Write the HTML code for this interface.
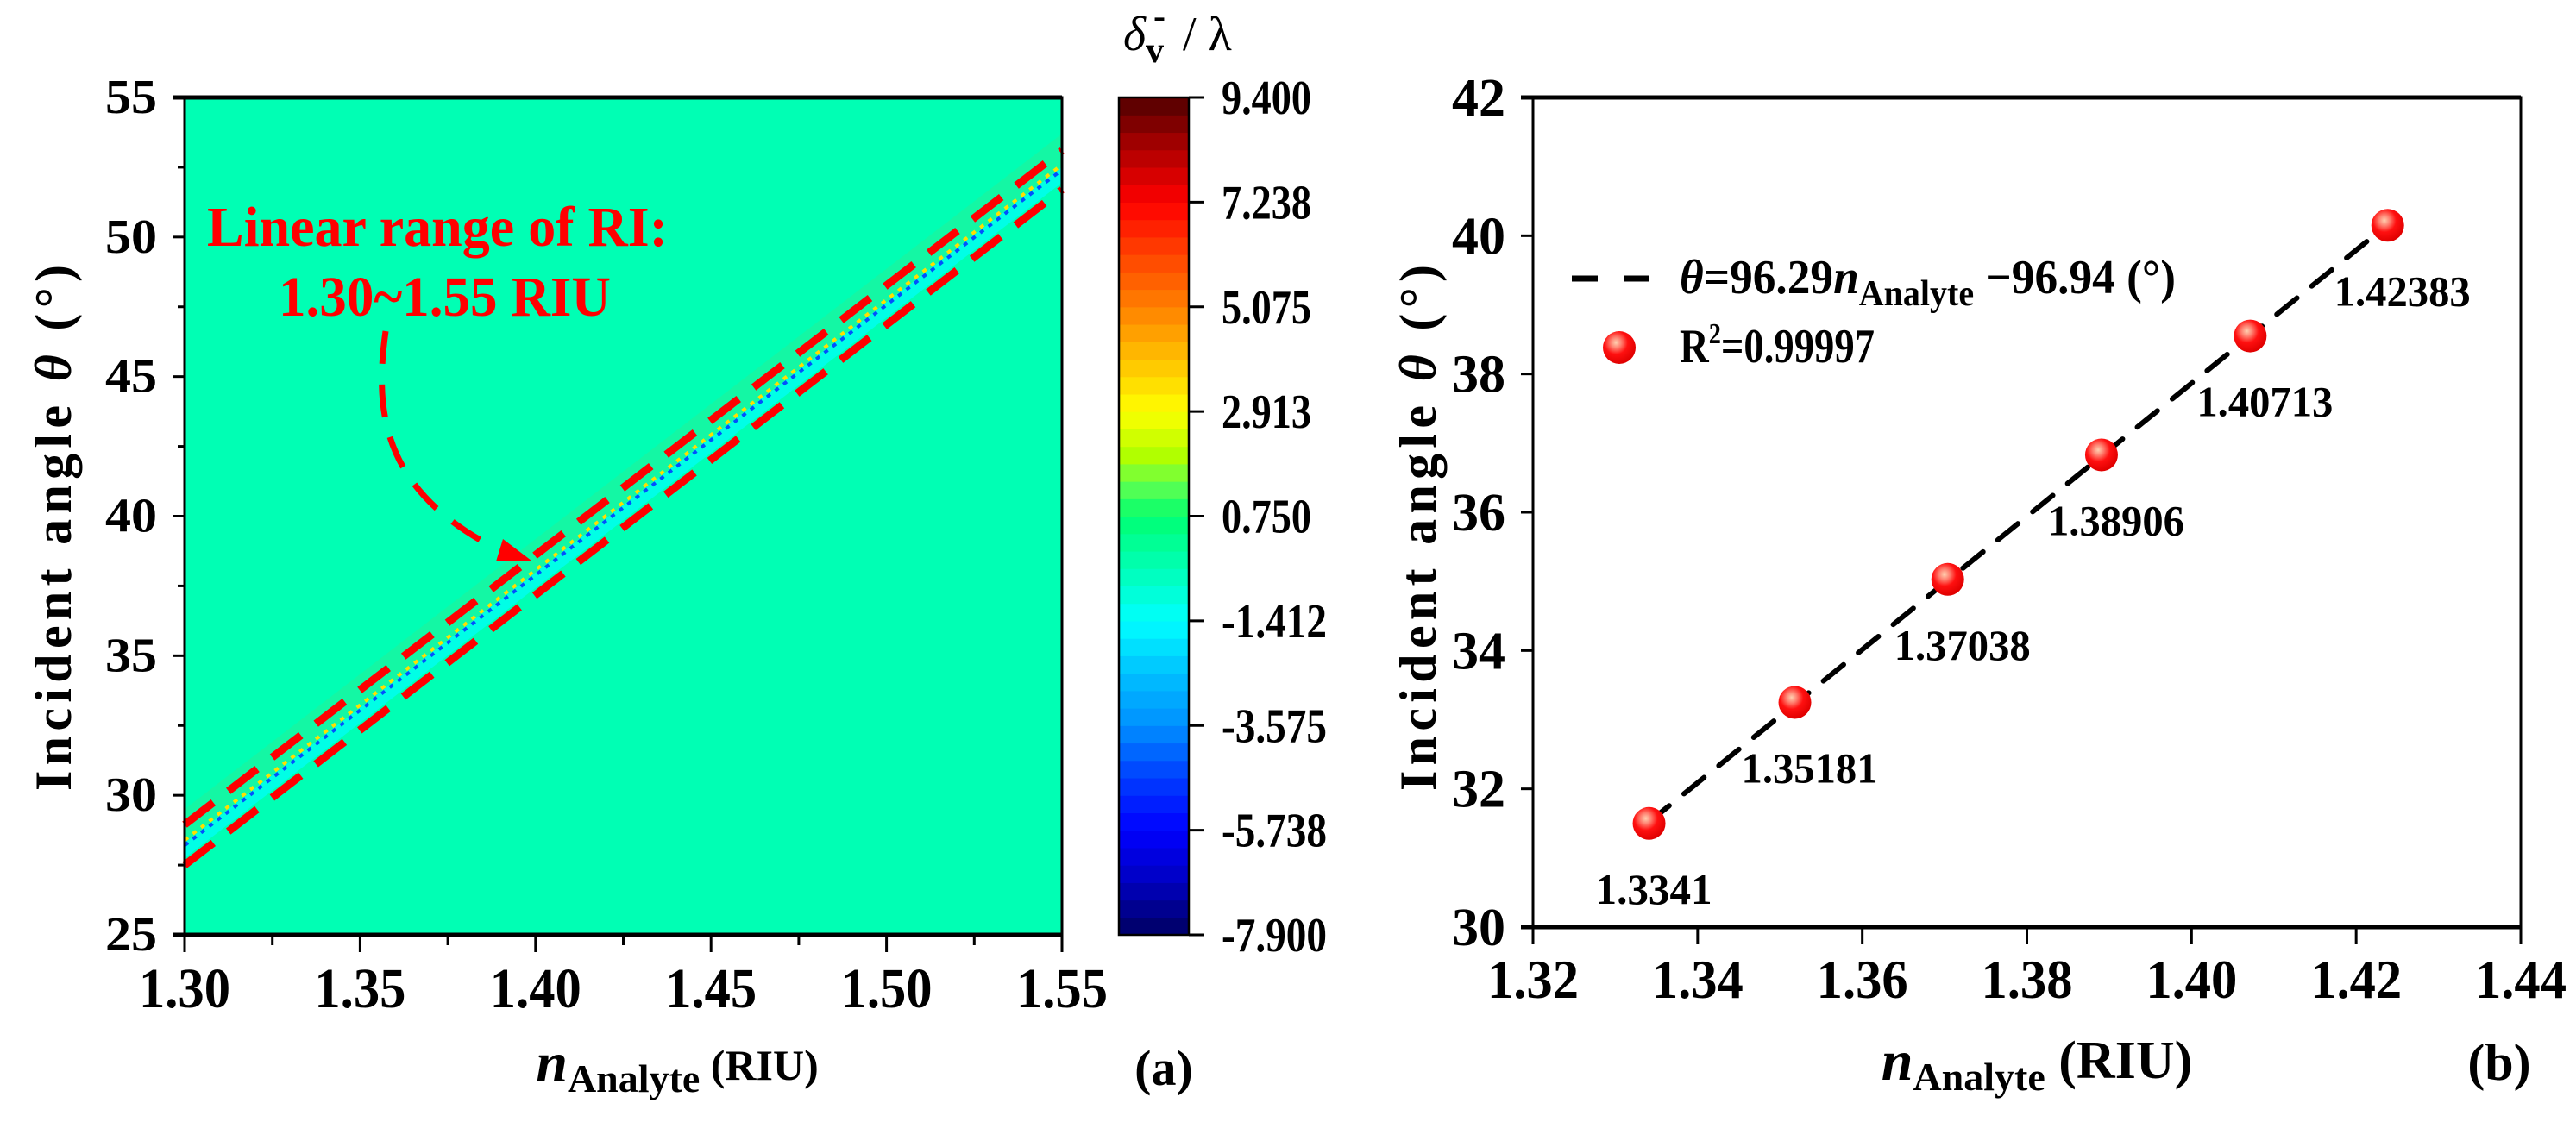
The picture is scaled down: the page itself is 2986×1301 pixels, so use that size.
<!DOCTYPE html>
<html><head><meta charset="utf-8"><style>
html,body{margin:0;padding:0;background:#fff;}
svg{display:block;font-family:"Liberation Serif",serif;}
</style></head><body>
<svg id="fig" width="2986" height="1301" viewBox="0 0 2986 1301" xmlns="http://www.w3.org/2000/svg">
<defs>
<radialGradient id="ball" cx="0.4" cy="0.35" r="0.65">
<stop offset="0" stop-color="#ffd0b0"/><stop offset="0.25" stop-color="#ff8070"/><stop offset="0.55" stop-color="#ff1010"/><stop offset="1" stop-color="#e00000"/>
</radialGradient>
<clipPath id="clipA"><rect x="214" y="113" width="1017" height="971"/></clipPath>
</defs>
<g id="panelA"></g>
<g id="cbar"></g>
<g id="panelB"></g>
</svg>
<script>
// ---------- Panel A data ----------
const aXTicks = [1.30, 1.35, 1.40, 1.45, 1.50, 1.55];
const aXTickLabels = ["1.30","1.35","1.40","1.45","1.50","1.55"];
const aYTicks = [25, 30, 35, 40, 45, 50, 55];
const bandStartN = [1.30];
const bandEndN = [1.55];
const bandCenterTheta = [28.3, 52.5];
const dashUpperTheta = [28.95, 53.1];
const dashLowerTheta = [27.5, 51.7];
// colorbar
const cbTicks = [9.400, 7.238, 5.075, 2.913, 0.750, -1.412, -3.575, -5.738, -7.900];
const cbTickLabels = ["9.400","7.238","5.075","2.913","0.750","-1.412","-3.575","-5.738","-7.900"];
const cbStopVals = [-7.9,-6.8,-5.74,-4.6,-3.575,-2.5,-1.412,-0.5,0.3,0.75,1.4,2.0,2.913,4.0,5.075,6.2,7.238,8.3,9.4];
const cbStopCols = ["#000060","#0000c0","#0000ff","#0040ff","#0090ff","#00c0ff","#00ffff","#00ffc0","#00ff90","#00ff70","#60ff50","#b0ff00","#ffff00","#ffc000","#ff8000","#ff4000","#ff0000","#b00000","#500000"];
// ---------- Panel B data ----------
const bN = [1.3341, 1.35181, 1.37038, 1.38906, 1.40713, 1.42383];
const bTheta = [31.5, 33.25, 35.03, 36.83, 38.55, 40.15];
const bLabels = ["1.3341","1.35181","1.37038","1.38906","1.40713","1.42383"];
const fitSlope = [96.29];
const fitIntercept = [-96.94];
const bXTicks = [1.32,1.34,1.36,1.38,1.40,1.42,1.44];
const bXTickLabels = ["1.32","1.34","1.36","1.38","1.40","1.42","1.44"];
const bYTicks = [30,32,34,36,38,40,42];

const NS = "http://www.w3.org/2000/svg";
function mk(tag, attrs, parent, text){
  const e = document.createElementNS(NS, tag);
  for (const k in attrs) e.setAttribute(k, attrs[k]);
  if (text !== undefined) e.textContent = text;
  parent.appendChild(e); return e;
}
const ax = n => 214 + (n - 1.30) / 0.25 * 1017;
const ay = t => 1084 - (t - 25) / 30 * 971;
const cy = v => 1084 - (v + 7.9) / 17.3 * 971;
const bx = n => 1777 + (n - 1.32) / 0.12 * 1145;
const by = t => 1075 - (t - 30) / 12 * 962;

function hex2rgb(h){return [parseInt(h.substr(1,2),16),parseInt(h.substr(3,2),16),parseInt(h.substr(5,2),16)];}
function colorAt(v){
  for (let i=0;i<cbStopVals.length-1;i++){
    if (v<=cbStopVals[i+1]){
      const t=(v-cbStopVals[i])/(cbStopVals[i+1]-cbStopVals[i]);
      const a=hex2rgb(cbStopCols[i]), b=hex2rgb(cbStopCols[i+1]);
      return "rgb("+a.map((x,j)=>Math.round(x+(b[j]-x)*t)).join(",")+")";
    }
  }
  return cbStopCols[cbStopCols.length-1];
}

// ===== Panel A =====
const A = document.getElementById("panelA");
const bg = mk("rect",{x:214,y:113,width:1017,height:971,fill:"#00ffb4"},A);


const bandG = mk("g",{"clip-path":"url(#clipA)"},A);


const n0=bandStartN[0], n1=bandEndN[0];
mk("polygon",{points:[ax(n0)+","+ay(bandCenterTheta[0]),ax(n1)+","+ay(bandCenterTheta[1]),ax(n1)+","+ay(bandCenterTheta[1]+1.2),ax(n0)+","+ay(bandCenterTheta[0]+1.2)].join(" "),fill:"#14f7a4"},bandG);
mk("polygon",{points:[ax(n0)+","+ay(bandCenterTheta[0]),ax(n1)+","+ay(bandCenterTheta[1]),ax(n1)+","+ay(bandCenterTheta[1]-0.55),ax(n0)+","+ay(bandCenterTheta[0]-0.55)].join(" "),fill:"#00ffe6"},bandG);
const dy = 3;
mk("line",{x1:ax(n0),y1:ay(bandCenterTheta[0])+dy,x2:ax(n1),y2:ay(bandCenterTheta[1])+dy,stroke:"#0050ff","stroke-width":4,"stroke-dasharray":"5 7"},bandG);
mk("line",{x1:ax(n0),y1:ay(bandCenterTheta[0])-dy,x2:ax(n1),y2:ay(bandCenterTheta[1])-dy,stroke:"#ffe000","stroke-width":4,"stroke-dasharray":"5 7"},bandG);
const du = mk("line",{x1:ax(n0),y1:ay(dashUpperTheta[0]),x2:ax(n1),y2:ay(dashUpperTheta[1]),stroke:"#ff0000","stroke-width":9,"stroke-dasharray":"42 22"},A);


const dl = mk("line",{x1:ax(n0),y1:ay(dashLowerTheta[0]),x2:ax(n1),y2:ay(dashLowerTheta[1]),stroke:"#ff0000","stroke-width":9,"stroke-dasharray":"42 22"},A);


const ann1 = mk("text",{x:240,y:285,fill:"#ff0000","font-size":66,"font-weight":"bold",textLength:534,lengthAdjust:"spacingAndGlyphs"},A,"Linear range of RI:");


const ann2 = mk("text",{x:323,y:366,fill:"#ff0000","font-size":66,"font-weight":"bold",textLength:385,lengthAdjust:"spacingAndGlyphs"},A,"1.30~1.55 RIU");


const arr = mk("path",{d:"M447,384 C435,470 440,560 560,628",fill:"none",stroke:"#ff0000","stroke-width":7,"stroke-dasharray":"38 24"},A);


const head = mk("polygon",{points:"616,650 575,651 583,625",fill:"#ff0000"},A);


const frA = mk("rect",{x:214,y:113,width:1017,height:971,fill:"none",stroke:"#000","stroke-width":3},A);


mk("line",{x1:200,y1:113,x2:1231,y2:113,stroke:"#000","stroke-width":5},A);
mk("line",{x1:200,y1:1084,x2:1231,y2:1084,stroke:"#000","stroke-width":5},A);
aXTicks.forEach((v,i)=>{
  mk("line",{x1:ax(v),y1:1084,x2:ax(v),y2:1104,stroke:"#000","stroke-width":3},A);
  if(i<aXTicks.length-1) mk("line",{x1:ax(v+0.025),y1:1084,x2:ax(v+0.025),y2:1096,stroke:"#000","stroke-width":3},A);
  const t = mk("text",{x:ax(v),y:1168,"text-anchor":"middle","font-size":66,"font-weight":"bold",textLength:106,lengthAdjust:"spacingAndGlyphs"},A,aXTickLabels[i]);
  
  
});
aYTicks.forEach((v,i)=>{
  mk("line",{x1:200,y1:ay(v),x2:214,y2:ay(v),stroke:"#000","stroke-width":3},A);
  if(i<aYTicks.length-1) mk("line",{x1:206,y1:ay(v+2.5),x2:214,y2:ay(v+2.5),stroke:"#000","stroke-width":3},A);
  const t = mk("text",{x:182,y:ay(v)+18,"text-anchor":"end","font-size":56,"font-weight":"bold",textLength:60,lengthAdjust:"spacingAndGlyphs"},A,String(v));
  
  
});
const xtA = mk("text",{x:785,y:1254,"text-anchor":"middle","font-weight":"bold"},A);


mk("tspan",{"font-size":66,"font-style":"italic"},xtA,"n");
mk("tspan",{"font-size":46,dy:12},xtA,"Analyte");
mk("tspan",{"font-size":50,dy:-14}, xtA," (RIU)");
const la = mk("text",{x:1349,y:1258,"text-anchor":"middle","font-size":58,"font-weight":"bold"},A,"(a)");


const ytA = mk("text",{x:0,y:0,"text-anchor":"middle","font-weight":"bold","font-size":60,textLength:610,transform:"translate(82,612) rotate(-90)"},A);


mk("tspan",{},ytA,"Incident angle ");
mk("tspan",{"font-style":"italic"},ytA,"θ");
mk("tspan",{},ytA," (°)");

// ===== Colorbar =====
const C = document.getElementById("cbar");
const nb = 48;
for(let i=0;i<nb;i++){
  const v0 = -7.9 + i*17.3/nb, v1 = v0 + 17.3/nb;
  const r = mk("rect",{x:1297,y:cy(v1),width:81,height:cy(v0)-cy(v1)+0.6,fill:colorAt((v0+v1)/2)},C);
  
  
}
mk("rect",{x:1297,y:113,width:81,height:971,fill:"none",stroke:"#000","stroke-width":2.5},C);
cbTicks.forEach((v,i)=>{
  mk("line",{x1:1378,y1:cy(v),x2:1396,y2:cy(v),stroke:"#000","stroke-width":3},C);
  const t = mk("text",{x:1416,y:cy(v)+19,"font-size":56,"font-weight":"bold",textLength:v<0?122:104,lengthAdjust:"spacingAndGlyphs"},C,cbTickLabels[i]);
  
  
});
const ct = mk("text",{x:1302,y:58,"font-size":56},C);


mk("tspan",{"font-style":"italic"},ct,"δ");
mk("tspan",{"font-weight":"bold","font-size":42,dy:14},ct,"v");
mk("tspan",{"font-weight":"bold","font-size":42,dy:-40,dx:-12},ct,"-");
mk("tspan",{dy:26,dx:6},ct," / λ");

// ===== Panel B =====
const B = document.getElementById("panelB");
const frB = mk("rect",{x:1777,y:113,width:1145,height:962,fill:"none",stroke:"#000","stroke-width":3},B);


mk("line",{x1:1763,y1:113,x2:2922,y2:113,stroke:"#000","stroke-width":5},B);
mk("line",{x1:1763,y1:1075,x2:2922,y2:1075,stroke:"#000","stroke-width":5},B);
bXTicks.forEach((v,i)=>{
  mk("line",{x1:bx(v),y1:1075,x2:bx(v),y2:1095,stroke:"#000","stroke-width":3},B);
  const t = mk("text",{x:bx(v),y:1157,"text-anchor":"middle","font-size":64,"font-weight":"bold",textLength:106,lengthAdjust:"spacingAndGlyphs"},B,bXTickLabels[i]);
  
  
});
bYTicks.forEach(v=>{
  mk("line",{x1:1763,y1:by(v),x2:1777,y2:by(v),stroke:"#000","stroke-width":3},B);
  const t = mk("text",{x:1745,y:by(v)+21,"text-anchor":"end","font-size":62,"font-weight":"bold",textLength:62,lengthAdjust:"spacingAndGlyphs"},B,String(v));
  
  
});
const fx0 = bN[0], fx1 = bN[bN.length-1];
const fit = mk("line",{x1:bx(fx0),y1:by(fitSlope[0]*fx0+fitIntercept[0]),x2:bx(fx1),y2:by(fitSlope[0]*fx1+fitIntercept[0]),stroke:"#000","stroke-width":6,"stroke-dasharray":"30 22","stroke-linecap":"round"},B);


bN.forEach((n,i)=>{
  const px = bx(n), py = by(bTheta[i]);
  const c = mk("ellipse",{cx:px,cy:py,rx:19,ry:19,fill:"url(#ball)"},B);
  
  
  const t = mk("text",{x:px-62,y:py+93,"font-size":50,"font-weight":"bold",textLength:bLabels[i].length>6?158:135,lengthAdjust:"spacingAndGlyphs"},B,bLabels[i]);
  
  
});
const lg = mk("g",{},B);


mk("line",{x1:1822,y1:323,x2:1923,y2:323,stroke:"#000","stroke-width":7,"stroke-dasharray":"30 30"},lg);
const lt1 = mk("text",{x:1947,y:340,"font-size":56,"font-weight":"bold",textLength:575,lengthAdjust:"spacingAndGlyphs"},lg);


mk("tspan",{"font-style":"italic"},lt1,"θ");
mk("tspan",{},lt1,"=96.29");
mk("tspan",{"font-style":"italic"},lt1,"n");
mk("tspan",{"font-size":42,dy:14},lt1,"Analyte");
mk("tspan",{dy:-14},lt1," −96.94 (°)");
mk("ellipse",{cx:1877,cy:403,rx:19,ry:19,fill:"url(#ball)"},lg);
const lt2 = mk("text",{x:1947,y:420,"font-size":56,"font-weight":"bold",textLength:226,lengthAdjust:"spacingAndGlyphs"},lg);


mk("tspan",{},lt2,"R");
mk("tspan",{"font-size":34,dy:-22},lt2,"2");
mk("tspan",{dy:22},lt2,"=0.99997");
const xtB = mk("text",{x:2361,y:1252,"text-anchor":"middle","font-weight":"bold"},B);


mk("tspan",{"font-size":66,"font-style":"italic"},xtB,"n");
mk("tspan",{"font-size":46,dy:12},xtB,"Analyte");
mk("tspan",{"font-size":62,dy:-14},xtB," (RIU)");
const lb = mk("text",{x:2897,y:1252,"text-anchor":"middle","font-size":60,"font-weight":"bold"},B,"(b)");


const ytB = mk("text",{x:0,y:0,"text-anchor":"middle","font-weight":"bold","font-size":60,textLength:610,transform:"translate(1664,612) rotate(-90)"},B);


mk("tspan",{},ytB,"Incident angle ");
mk("tspan",{"font-style":"italic"},ytB,"θ");
mk("tspan",{},ytB," (°)");
</script>
</body></html>
